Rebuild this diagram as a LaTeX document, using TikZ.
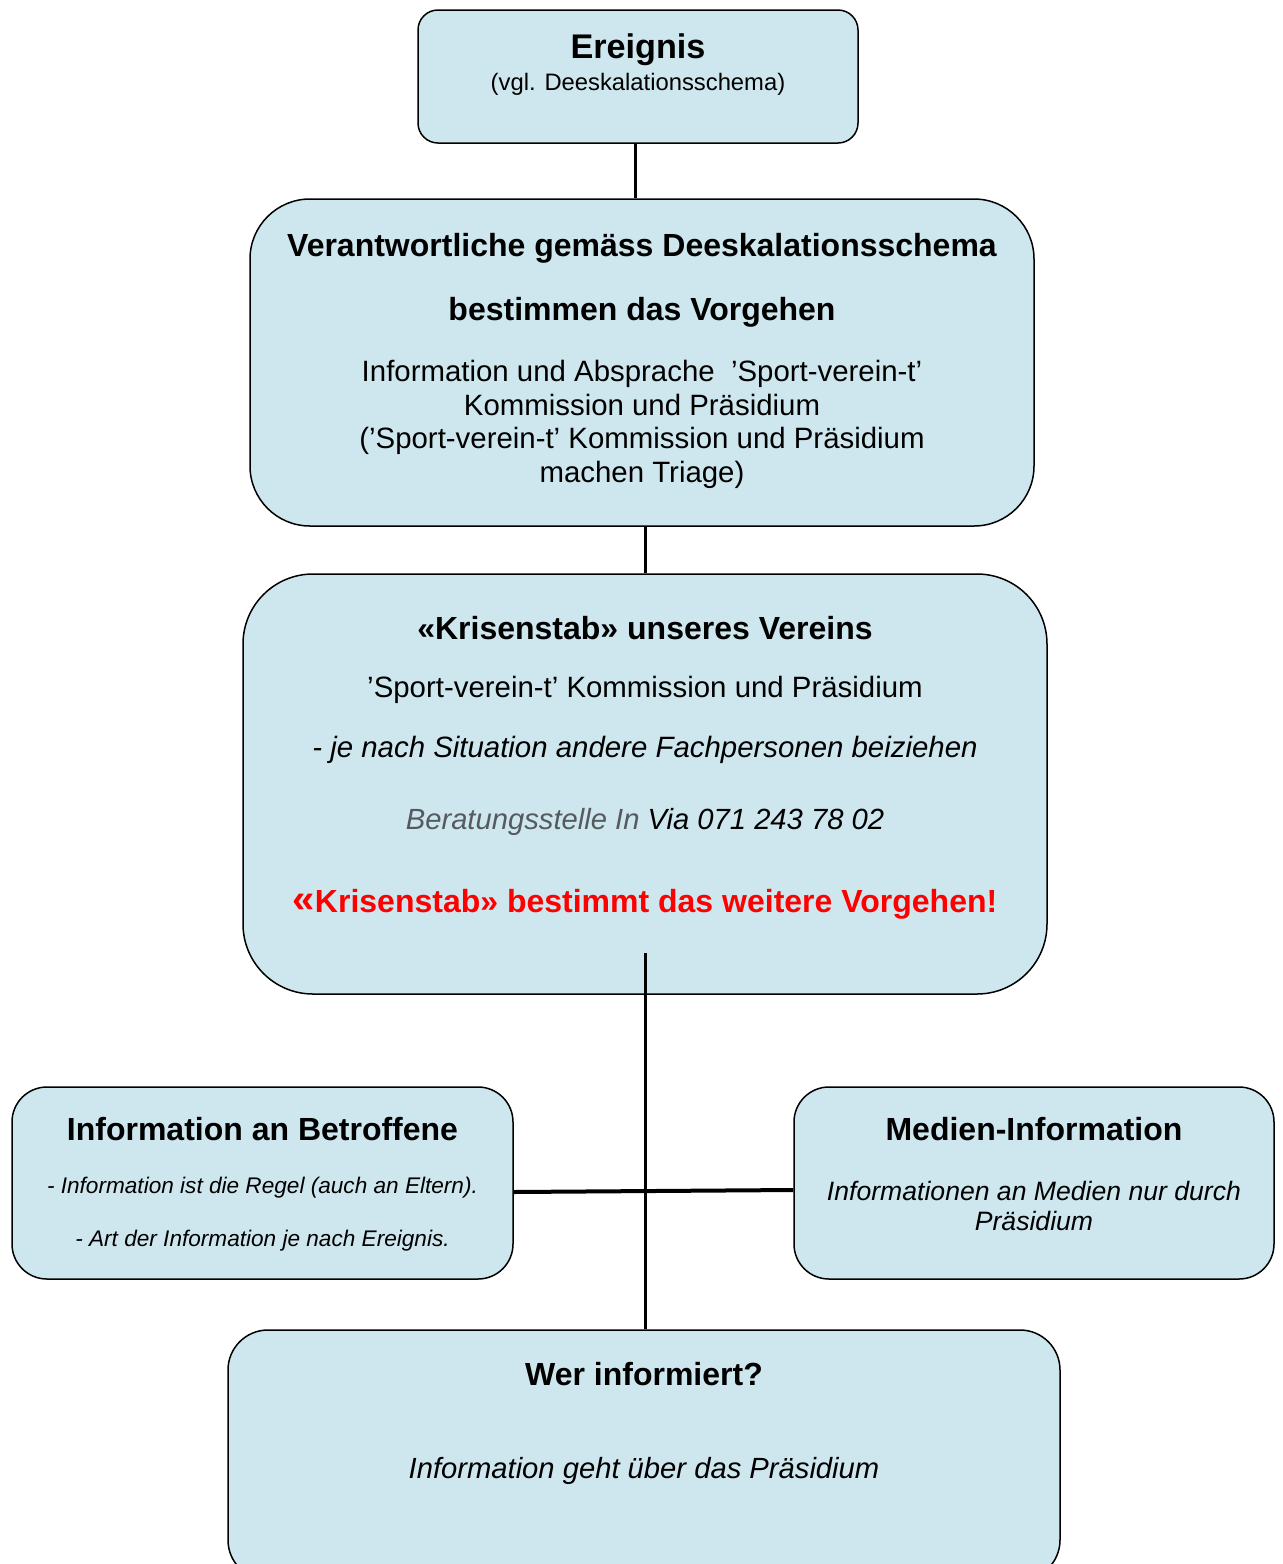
\documentclass[tikz,border=0pt]{standalone}
\usepackage{fontspec}
\setmainfont{Liberation Sans}
\usepackage{xcolor}
\definecolor{boxblue}{RGB}{206,231,238}
\definecolor{softgray}{RGB}{85,90,95}

\begin{document}
\begin{tikzpicture}[x=0.5pt, y=-0.5pt,
    box/.style={draw, fill=boxblue, line width=0.75pt, inner sep=0pt},
    link/.style={line width=1.5pt},
    head/.style={font=\fontsize{16}{19}\selectfont\bfseries},
    body/.style={font=\fontsize{14.7}{16.8}\selectfont, align=center},
    note/.style={font=\fontsize{11.3}{13}\selectfont\itshape}]
    \useasboundingbox (0,0) rectangle (1282,1564);

    % boxes
    \node[box, rounded corners=10pt, minimum width=220pt, minimum height=66.5pt] (event) at (638,76.5) {};
    \node[box, rounded corners=30pt, minimum width=392pt, minimum height=163.5pt] (resp) at (642,362.5) {};
    \node[box, rounded corners=35pt, minimum width=402pt, minimum height=210pt] (crisis) at (645,784) {};
    \node[box, rounded corners=17.5pt, minimum width=250.5pt, minimum height=96pt] (affected) at (262.5,1183) {};
    \node[box, rounded corners=17.5pt, minimum width=240pt, minimum height=96pt] (media) at (1034,1183) {};
    \node[box, rounded corners=20pt, minimum width=416pt, minimum height=125pt] (who) at (644,1455) {};

    % texts
    \begin{scope}[yshift=-1.5pt]
    \node[font=\fontsize{17.1}{20}\selectfont\bfseries] (eventT) at (638,47) {Ereignis};
    \node[font=\fontsize{11.9}{14}\selectfont] (eventS) at (638,81) {(vgl. Deeskalationsschema)};

    \node[head] (respA) at (642,245) {Verantwortliche gemäss Deeskalationsschema};
    \node[head] (respB) at (642,309) {bestimmen das Vorgehen};
    \node[body] (respC) at (642,421.5) {Information und Absprache\ \ ’Sport-verein-t’\\Kommission und Präsidium\\(’Sport-verein-t’ Kommission und Präsidium\\machen Triage)};

    \node[head] (crisisA) at (645,625) {«Krisenstab» unseres Vereins};
    \node[body] (crisisB) at (645,687) {’Sport-verein-t’ Kommission und Präsidium};
    \node[body, font=\fontsize{14.7}{16}\selectfont\itshape] (crisisC) at (645,747) {- je nach Situation andere Fachpersonen beiziehen};
    \node[font=\fontsize{14.6}{16}\selectfont\itshape] (crisisD) at (645,819) {\textcolor{softgray}{Beratungsstelle In} Via 071 243 78 02};
    \node[font=\fontsize{16}{19}\selectfont\bfseries, text=red] (crisisE) at (645,901) {{\fontsize{20}{21}\selectfont «}Krisenstab» bestimmt das weitere Vorgehen!};

    \node[head] (affectedT) at (262.5,1126) {Information an Betroffene};
    \node[note] (affectedA) at (262.5,1185) {- Information ist die Regel (auch an Eltern).};
    \node[note] (affectedB) at (262.5,1238) {- Art der Information je nach Ereignis.};

    \node[head] (mediaT) at (1034,1126) {Medien-Information};
    \node[font=\fontsize{13.3}{15}\selectfont\itshape, align=center] (mediaA) at (1034,1203) {Informationen an Medien nur durch\\Präsidium};

    \node[head] (whoT) at (644,1371) {Wer informiert?};
    \node[font=\fontsize{14.6}{16}\selectfont\itshape] (whoA) at (644,1468) {Information geht über das Präsidium};
    \end{scope}

    % connectors
    \coordinate (stem) at (645,953);
    \draw[link] ([xshift=-1.5pt]event.south) -- ([xshift=-1.5pt]event.south |- resp.north);
    \draw[link] (resp.south -| crisis.north) -- (crisis.north);
    \draw[link] (stem) -- (stem |- who.north);
    \draw[link, line width=2pt] ([yshift=-4.5pt]affected.east) -- ([yshift=-3.5pt]media.west);
\end{tikzpicture}
\end{document}
